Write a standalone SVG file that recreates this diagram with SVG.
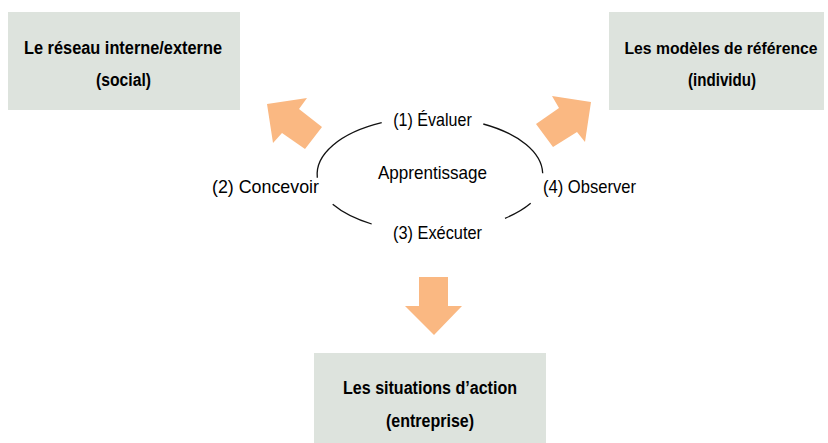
<svg xmlns="http://www.w3.org/2000/svg" width="828" height="443" viewBox="0 0 828 443">
<style>
.box{fill:#DDE3DD;}
.bt{font-family:"Liberation Sans",Arial,sans-serif;font-weight:bold;font-size:18px;fill:#000;text-anchor:middle;}
.rt{font-family:"Liberation Sans",Arial,sans-serif;font-size:18.5px;fill:#000;text-anchor:middle;}
.arr{fill:#FAB882;}
.arc{fill:none;stroke:#111;stroke-width:1.3;}
</style>
<rect width="828" height="443" fill="#fff"/>
<g id="node-social">
<rect class="box" x="8" y="12" width="232" height="98"/>
<text class="bt" x="123" y="54.3" textLength="198" lengthAdjust="spacingAndGlyphs">Le réseau interne/externe</text>
<text class="bt" x="123.5" y="86" textLength="55" lengthAdjust="spacingAndGlyphs">(social)</text>
</g>
<g id="node-individu">
<rect class="box" x="609" y="12" width="215" height="98"/>
<text class="bt" x="721" y="54.3" textLength="193" lengthAdjust="spacingAndGlyphs" style="font-size:16.5px">Les modèles de référence</text>
<text class="bt" x="722" y="86" textLength="68" lengthAdjust="spacingAndGlyphs">(individu)</text>
</g>
<g id="node-entreprise">
<rect class="box" x="314" y="353" width="232" height="90"/>
<text class="bt" x="430" y="394.3" textLength="174" lengthAdjust="spacingAndGlyphs">Les situations d’action</text>
<text class="bt" x="430" y="427.3" textLength="88" lengthAdjust="spacingAndGlyphs">(entreprise)</text>
</g>
<g id="node-apprentissage">
<path class="arc" d="M317.3,177.7 A113.6,57.4 0 0 1 381.7,122.7"/>
<path class="arc" d="M483.3,124 A113.6,57.4 0 0 1 542.7,173.3"/>
<path class="arc" d="M530.7,203.3 A113.6,57.4 0 0 1 505,218.3"/>
<path class="arc" d="M371.7,224 A113.6,57.4 0 0 1 332.7,204.3"/>
<text class="rt" x="432.5" y="178.7" textLength="109" lengthAdjust="spacingAndGlyphs">Apprentissage</text>
<text class="rt" x="432.5" y="126" textLength="78.5" lengthAdjust="spacingAndGlyphs">(1) Évaluer</text>
<text class="rt" x="265.5" y="193.3" textLength="107" lengthAdjust="spacingAndGlyphs">(2) Concevoir</text>
<text class="rt" x="437.5" y="239.3" textLength="89" lengthAdjust="spacingAndGlyphs">(3) Exécuter</text>
<text class="rt" x="589.5" y="193.3" textLength="93" lengthAdjust="spacingAndGlyphs">(4) Observer</text>
</g>
<g id="connectors">
<polygon class="arr" points="267,104 307,98 299,109 322,127 305,149 282,133 273,143"/>
<polygon class="arr" points="591,102 552,96 559,108 536,124 553,147 577,132 585,142"/>
<polygon class="arr" points="419,277 448,277 448,306 462,306 434,335 405,306 419,306"/>
</g>
</svg>
